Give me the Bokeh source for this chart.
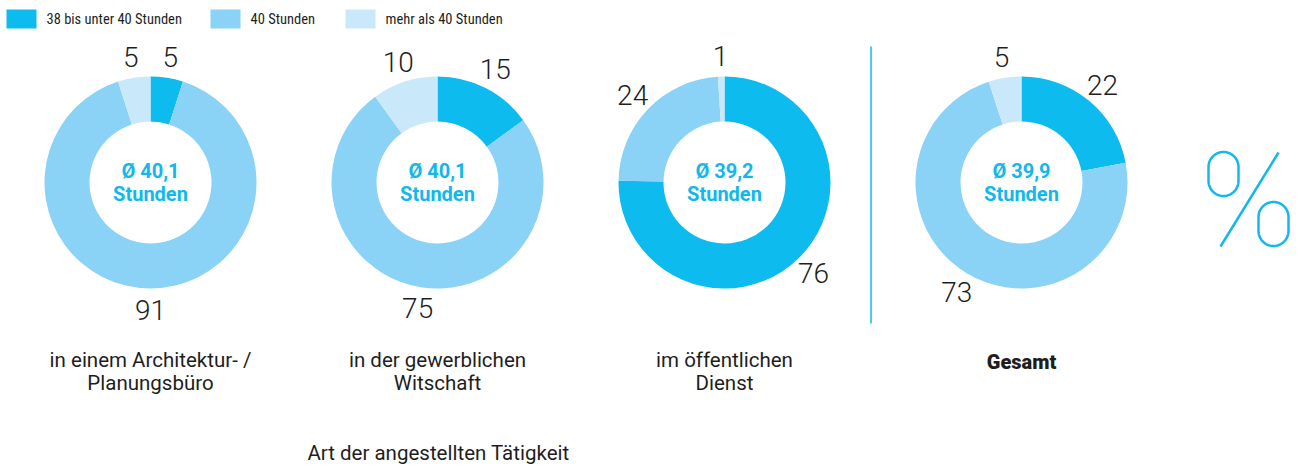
import numpy as np
from bokeh.plotting import figure
from bokeh.models import Range1d
from bokeh.embed import file_html
from bokeh.resources import INLINE
from bokeh.core.properties import value

# ---------------- data ----------------
categories = ["in einem Architektur- /\nPlanungsbüro",
              "in der gewerblichen\nWitschaft",
              "im öffentlichen\nDienst",
              "Gesamt"]
series_names = ["38 bis unter 40 Stunden", "40 Stunden", "mehr als 40 Stunden"]
s_38_40 = [5, 15, 76, 22]
s_40 = [91, 75, 24, 73]
s_mehr = [5, 10, 1, 5]
averages = ["40,1", "40,1", "39,2", "39,9"]
unit_label = "Stunden"
axis_title = "Art der angestellten Tätigkeit"

# ---------------- style ----------------
COLORS = ["#0DBBEE", "#8AD2F6", "#C9E8F9"]
ACCENT = "#12B8EA"
TXT = "#1e1e1e"
FONT = value("Roboto")
FONT_LIGHT = value("'Roboto Light', Roboto")
FONT_COND = value("'Roboto Condensed', Roboto")
FONT_BLACK = value("'Roboto Black', Roboto")

W, H = 1301, 468


def X(xr):
    return xr


def Y(yr):
    return H - yr


p = figure(width=W, height=H, x_range=Range1d(0, W), y_range=Range1d(0, H),
           output_backend="svg", toolbar_location=None, min_border=0,
           x_axis_type=None, y_axis_type=None)
p.grid.visible = False
p.outline_line_color = None
p.background_fill_color = "white"

# ---------------- legend ----------------
leg_sw_x = [6, 210, 345]
for i, name in enumerate(series_names):
    p.rect(x=[X(leg_sw_x[i] + 15)], y=[Y(18.5)], width=30, height=19,
           fill_color=COLORS[i], line_color=None)
    p.text(x=[X(leg_sw_x[i] + 40)], y=[Y(19)], text=[name], text_font=FONT_COND,
           text_font_size="14.5px", text_color=TXT, text_baseline="middle",
           text_align="left")

# ---------------- donuts ----------------
centers_x = [150, 437, 724, 1021]
cy = 182
R_IN, R_OUT, R_LAB = 61, 106, 127

for i in range(len(categories)):
    vals = [s_38_40[i], s_40[i], s_mehr[i]]
    total = float(sum(vals))
    cum = np.concatenate([[0.0], np.cumsum(vals) / total])
    cx = centers_x[i]
    for k in range(3):
        c0, c1 = cum[k], cum[k + 1]
        p.annular_wedge(x=[X(cx)], y=[Y(cy)], inner_radius=R_IN, outer_radius=R_OUT,
                        start_angle=np.pi / 2 - 2 * np.pi * c1,
                        end_angle=np.pi / 2 - 2 * np.pi * c0,
                        fill_color=COLORS[k], line_color=None)
        mid = (c0 + c1) / 2
        ang = np.pi / 2 - 2 * np.pi * mid
        lx = X(cx) + R_LAB * np.cos(ang)
        ly = Y(cy) + R_LAB * np.sin(ang)
        p.text(x=[lx], y=[ly], text=[str(vals[k])], text_font=FONT_LIGHT,
               text_font_size="28px", text_color=TXT, text_align="center",
               text_baseline="middle")
    # center text
    p.text(x=[X(cx)], y=[Y(170)], text=["Ø " + averages[i]], text_font=FONT,
           text_font_size="20px", text_font_style="bold", text_color=ACCENT,
           text_align="center", text_baseline="middle")
    p.text(x=[X(cx)], y=[Y(193)], text=[unit_label], text_font=FONT,
           text_font_size="20px", text_font_style="bold", text_color=ACCENT,
           text_align="center", text_baseline="middle")
    # category label
    lines = categories[i].split("\n")
    if categories[i] == "Gesamt":
        p.text(x=[X(cx)], y=[Y(361)], text=[lines[0]], text_font=FONT_BLACK,
               text_font_size="20px", text_font_style="bold", text_color=TXT,
               text_align="center", text_baseline="middle")
    else:
        for j, ln in enumerate(lines):
            p.text(x=[X(cx)], y=[Y(359 + 23 * j)], text=[ln], text_font=FONT,
                   text_font_size="20.5px", text_color=TXT,
                   text_align="center", text_baseline="middle")

# axis title
p.text(x=[X(438)], y=[Y(452)], text=[axis_title], text_font=FONT,
       text_font_size="20.5px", text_color=TXT, text_align="center",
       text_baseline="middle")

# separator
p.line(x=[X(870.5), X(870.5)], y=[Y(46), Y(323)], line_color=ACCENT, line_width=1.5)


# ---------------- decorative percent sign ----------------
def stadium(cxr, cyr, a, b):
    t1 = np.linspace(0, np.pi, 40)
    t2 = np.linspace(np.pi, 2 * np.pi, 40)
    xs = np.concatenate([cxr + a * np.cos(t1), cxr + a * np.cos(t2), [cxr + a]])
    ys = np.concatenate([(cyr - (b - a)) - a * np.sin(t1),
                         (cyr + (b - a)) - a * np.sin(t2),
                         [cyr - (b - a)]])
    return [X(v) for v in xs], [Y(v) for v in ys]


for (ox, oy) in [(1223, 173.5), (1273, 223.5)]:
    sx, sy = stadium(ox, oy, 15, 22)
    p.line(x=sx, y=sy, line_color=ACCENT, line_width=2.5)
p.line(x=[X(1278), X(1220)], y=[Y(152), Y(246)], line_color=ACCENT, line_width=2.5)

open("out.html", "w").write(file_html(p, INLINE))
